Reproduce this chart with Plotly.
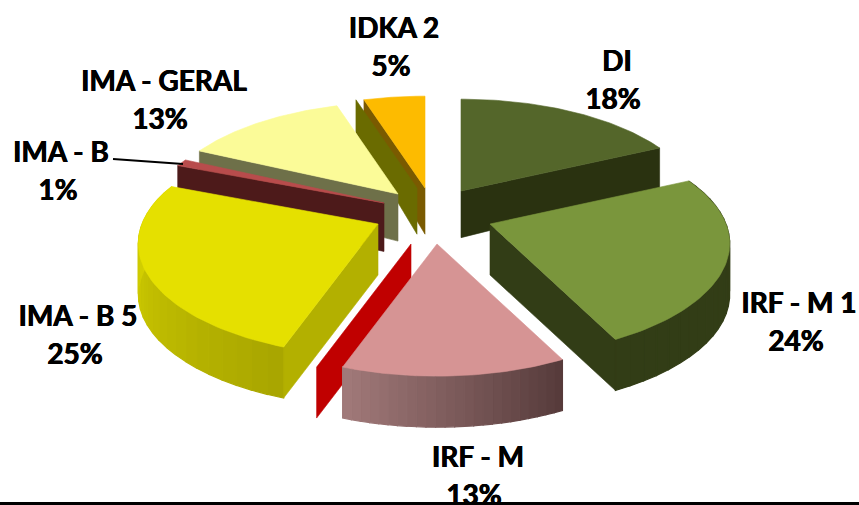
import math
import plotly.graph_objects as go

# ---- data ----
categories = ["DI", "IRF - M 1", "IRF - M", "IMA - B 5", "IMA - B", "IMA - GERAL", "IDKA 2"]
values = [18, 24, 13, 25, 1, 13, 5]

# ---- exploded slice apex positions (layout) ----
apex_x = [461, 490, 437, 378, 384, 398, 425]
apex_y = [191, 224, 244, 224, 203, 194, 188]

top_colors = ["#54662A", "#7A963C", "#D69494", "#E5E000", "#B84C4C", "#FBFB98", "#FDBB00"]

# label positions (layout)
name_pos = [(617, 64), (799, 306), (478, 460), (78, 319), (61, 155), (164, 84), (394, 31)]
pct_pos = [(613, 102), (796, 344), (474, 498), (75, 357), (58, 193), (160, 122), (391, 69)]

RX, RY, Q = 236, 112, 0.18


def angles():
    total = sum(values)
    out, c = [], 0
    for v in values:
        out.append((c * 360 / total, (c + v) * 360 / total))
        c += v
    return out


def rim(ax, ay, t):
    r = math.radians(t)
    s = 1 - Q * math.cos(r)
    return ax + math.sin(r) * RX * s, ay - math.cos(r) * RY * s


def depth(y):
    return min(51, 33 + 0.15 * (y - 100))


def mix(c1, c2, f):
    a = [int(c1[i:i + 2], 16) for i in (1, 3, 5)]
    b = [int(c2[i:i + 2], 16) for i in (1, 3, 5)]
    return "#%02x%02x%02x" % tuple(round(a[i] + (b[i] - a[i]) * f) for i in range(3))


fig = go.Figure()


def poly(pts, color, lw=0.6):
    xs = [p[0] for p in pts] + [pts[0][0]]
    ys = [p[1] for p in pts] + [pts[0][1]]
    fig.add_trace(go.Scatter(x=xs, y=ys, mode="lines", fill="toself", fillcolor=color,
                             line=dict(color=color, width=lw), hoverinfo="skip", showlegend=False))


def top(i):
    t0, t1 = A[i]
    n = 60
    pts = [(apex_x[i], apex_y[i])]
    pts += [rim(apex_x[i], apex_y[i], t0 + (t1 - t0) * k / n) for k in range(n + 1)]
    poly(pts, top_colors[i])


def face(i, t, color, dx=0):
    ax, ay = apex_x[i], apex_y[i]
    ex, ey = rim(ax, ay, t)
    poly([(ax + dx, ay), (ex + dx, ey), (ex + dx, ey + depth(ey)), (ax + dx, ay + depth(ay))], color)


def wall(i, c0, c1):
    t0, t1 = A[i]
    ax, ay = apex_x[i], apex_y[i]
    n = 24
    for k in range(n):
        a = t0 + (t1 - t0) * k / n
        b = t0 + (t1 - t0) * (k + 1) / n
        p, q = rim(ax, ay, a), rim(ax, ay, b)
        poly([p, q, (q[0], q[1] + depth(q[1])), (p[0], p[1] + depth(p[1]))],
             mix(c0, c1, (k + 0.5) / n), lw=1.2)


A = angles()
DI, IRF1, IRF, B5, B, GER, IDKA = range(7)

# IDKA 2
face(IDKA, A[IDKA][0], "#7A5A00")
face(IDKA, A[IDKA][0], "#6A6B00", dx=-8)
top(IDKA)
# IMA - GERAL
face(GER, A[GER][0], "#6E7049")
top(GER)
# DI
face(DI, A[DI][1], "#2A3210")
top(DI)
# IMA - B
face(B, A[B][0], "#4D1A1A")
top(B)
# IMA - B 5
wall(B5, "#A8A500", "#DEDA00")
face(B5, A[B5][0], "#B3B000")
top(B5)
# IRF - M 1
wall(IRF1, "#323D16", "#323D16")
face(IRF1, A[IRF1][1], "#323D16")
top(IRF1)
# IRF - M
face(IRF, A[IRF][1], "#C00000", dx=-26)
wall(IRF, "#553A3A", "#A27A7A")
top(IRF)

# labels
FONT = dict(family="Lato", size=28, color="#000000",
            shadow="0.4px 0 0 #000, -0.4px 0 0 #000")
fig.add_trace(go.Scatter(x=[p[0] for p in name_pos], y=[p[1] for p in name_pos], mode="text",
                         text=[f"<b>{c}</b>" for c in categories], textfont=FONT,
                         textposition="middle center", cliponaxis=False, hoverinfo="skip", showlegend=False))
fig.add_trace(go.Scatter(x=[p[0] for p in pct_pos], y=[p[1] for p in pct_pos], mode="text",
                         text=[f"<b>{v}%</b>" for v in values], textfont=FONT,
                         textposition="middle center", cliponaxis=False, hoverinfo="skip", showlegend=False))

fig.update_layout(
    width=859, height=505, margin=dict(l=0, r=0, t=0, b=0),
    paper_bgcolor="#FFFFFF", plot_bgcolor="#FFFFFF", showlegend=False,
    xaxis=dict(range=[0, 859], visible=False, fixedrange=True),
    yaxis=dict(range=[505, 0], visible=False, fixedrange=True),
    shapes=[
        dict(type="line", x0=113, y0=159, x1=183, y1=164, line=dict(color="#000000", width=2)),
        dict(type="rect", x0=0, x1=859, y0=502, y1=505, fillcolor="#000000", line=dict(width=0), layer="above"),
    ],
)
fig.write_html("out.html", config=dict(displayModeBar=False),
               post_script="document.body.style.margin='0';document.body.style.overflow='hidden';")
